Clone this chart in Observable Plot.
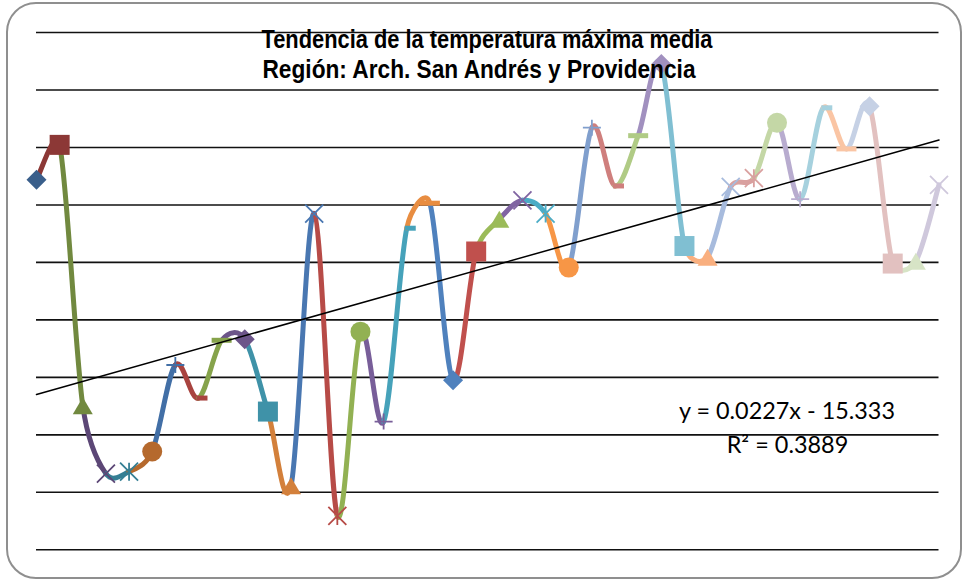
<!DOCTYPE html>
<html>
<head>
<meta charset="utf-8">
<script src="https://cdn.jsdelivr.net/npm/d3@7"></script>
<script src="https://cdn.jsdelivr.net/npm/@observablehq/plot@0.6"></script>
<style>
  body { margin: 0; background: #fff; }
  #wrap { position: relative; width: 963px; height: 581px; overflow: hidden; background: #fff; }
  #frame { position: absolute; left: 6px; top: 2px; width: 956px; height: 577px; box-sizing: border-box;
           border: 2px solid #8f8f8f; border-radius: 30px; pointer-events: none; }
  #chart { position: absolute; left: 0; top: 0; }
</style>
</head>
<body>
<div id="wrap"><div id="chart"></div><div id="frame"></div></div>
<script>
// ---------------- data ----------------
const titleLines = ["Tendencia de la temperatura máxima media", "Región: Arch. San Andrés y Providencia"];
const equationLines = ["y = 0.0227x - 15.333", "R² = 0.3889"];
const trendSlope = 0.0227;
const trendIntercept = -15.333;

const years = [1968, 1969, 1970, 1971, 1972, 1973, 1974, 1975, 1976, 1977,
               1978, 1979, 1980, 1981, 1982, 1983, 1984, 1985, 1986, 1987,
               1988, 1989, 1990, 1991, 1992, 1993, 1994, 1995, 1996, 1997,
               1998, 1999, 2000, 2001, 2002, 2003, 2004, 2005, 2006, 2007];

const tmax = [30.088, 30.209, 29.301, 29.065, 29.072, 29.142, 29.443, 29.328, 29.529, 29.533,
              29.281, 29.023, 29.970, 28.918, 29.559, 29.246, 29.919, 30.006, 29.390, 29.838,
              29.950, 30.016, 29.970, 29.782, 30.269, 30.066, 30.241, 30.490, 29.857, 29.818,
              30.063, 30.093, 30.286, 30.020, 30.338, 30.195, 30.343, 29.796, 29.804, 30.070];

const gridValues = [28.8, 29.0, 29.2, 29.4, 29.6, 29.8, 30.0, 30.2, 30.4, 30.6];

const pointColors = [
  "#3a5f8b", "#8c3836", "#71893f", "#5c4776", "#357f94", "#b5692d",
  "#426fa6", "#a8433f", "#86a34b", "#6c5589", "#3f92a8", "#d3803b",
  "#4977b1", "#b74b47", "#92b153", "#785e99", "#46a2ba", "#e88d41",
  "#4f81bd", "#c0504d", "#9bbb59", "#8064a2", "#4bacc6", "#f79646",
  "#809fcd", "#cf7f7d", "#b0cb85", "#a190bf", "#80bfd2", "#f9af7f",
  "#a7bbdd", "#d9a09f", "#c4d7a6", "#b8accf", "#a6d1de", "#fac5a4",
  "#c6d1e5", "#e2c1c0", "#d7e4c6", "#cfc8dc"
];

const markerCycle = ["diamond", "square", "triangle", "x", "asterisk", "circle", "plus", "dash", "longdash"];

// ---------------- build tables ----------------
const points = years.map((yr, i) => ({year: yr, t: tmax[i], color: pointColors[i], marker: markerCycle[i % markerCycle.length]}));

// each segment i (from point i-1 to point i) carries its 4 neighbouring points, coloured like point i
const segRows = [];
for (let i = 1; i < points.length; i++) {
  const idx = [Math.max(i - 2, 0), i - 1, i, Math.min(i + 1, points.length - 1)];
  for (const j of idx) segRows.push({seg: i, year: years[j], t: tmax[j], color: pointColors[i]});
}

// custom curve: draws only the middle segment of 4 points, Excel-style smoothing
// (tangent parallel to the neighbours' chord, arm = min(chord/6, segment/2))
function middleSegment(context) {
  let pts = [];
  const dist = (a, b) => Math.hypot(b[0] - a[0], b[1] - a[1]);
  return {
    areaStart() {}, areaEnd() {},
    lineStart() { pts = []; },
    lineEnd() {
      if (pts.length === 4) {
        const [p0, p1, p2, p3] = pts;
        const d12 = dist(p1, p2), d02 = dist(p0, p2), d13 = dist(p1, p3);
        const f1 = d02 > 0 ? Math.min(d02 / 6, d12 / 2) / d02 : 0;
        const f2 = d13 > 0 ? Math.min(d13 / 6, d12 / 2) / d13 : 0;
        context.moveTo(p1[0], p1[1]);
        context.bezierCurveTo(
          p1[0] + (p2[0] - p0[0]) * f1, p1[1] + (p2[1] - p0[1]) * f1,
          p2[0] - (p3[0] - p1[0]) * f2, p2[1] - (p3[1] - p1[1]) * f2,
          p2[0], p2[1]);
      }
    },
    point(x, y) { pts.push([+x, +y]); }
  };
}

const symbols = {
  diamond:  {draw(c) { c.moveTo(0, -10); c.lineTo(10, 0); c.lineTo(0, 10); c.lineTo(-10, 0); c.closePath(); }},
  square:   {draw(c) { c.rect(-10, -10, 20, 20); }},
  triangle: {draw(c) { c.moveTo(0, -8.5); c.lineTo(10, 8.5); c.lineTo(-10, 8.5); c.closePath(); }},
  x:        {draw(c) { c.moveTo(-9, -9); c.lineTo(9, 9); c.moveTo(9, -9); c.lineTo(-9, 9); }},
  asterisk: {draw(c) { c.moveTo(-9, -9); c.lineTo(9, 9); c.moveTo(9, -9); c.lineTo(-9, 9); c.moveTo(0, -9); c.lineTo(0, 9); }},
  circle:   {draw(c) { c.moveTo(10, 0); c.arc(0, 0, 10, 0, 2 * Math.PI); }},
  plus:     {draw(c) { c.moveTo(-9, 0); c.lineTo(9, 0); c.moveTo(0, -8); c.lineTo(0, 8); }},
  dash:     {draw(c) { c.rect(-2, -2.5, 11, 5); }},
  longdash: {draw(c) { c.rect(-10, -2.5, 20, 5); }}
};
const stroked = new Set(["x", "asterisk", "plus"]);

const markerMarks = markerCycle.map(m => Plot.dot(points.filter(d => d.marker === m), stroked.has(m)
  ? {x: "year", y: "t", symbol: symbols[m], stroke: "color", fill: "none", strokeWidth: 1.8}
  : {x: "year", y: "t", symbol: symbols[m], fill: "color", stroke: "none"}));

const trendRows = [years[0], years[years.length - 1]].map(yr => ({year: yr, t: trendSlope * yr + trendIntercept}));

const chart = Plot.plot({
  width: 963,
  height: 581,
  marginLeft: 36,
  marginRight: 24.5,
  marginTop: 32,
  marginBottom: 31.7,
  x: {domain: [years[0], years[years.length - 1]], axis: null},
  y: {domain: [gridValues[0], gridValues[gridValues.length - 1]], axis: null},
  color: {type: "identity"},
  style: {background: "transparent", overflow: "visible"},
  marks: [
    Plot.ruleY(gridValues, {stroke: "#111", strokeWidth: 1.6}),
    Plot.line(segRows, {x: "year", y: "t", z: "seg", stroke: "color", strokeWidth: 5,
                        curve: middleSegment, strokeLinecap: "round"}),
    ...markerMarks,
    Plot.line(trendRows, {x: "year", y: "t", stroke: "#000", strokeWidth: 1.5})
  ]
});
document.getElementById("chart").appendChild(chart);

// ---------------- texts ----------------
const svg = d3.select(chart);
const texts = [
  {s: titleLines[0], x: 487, y: 47.5, w: 451, font: "bold 25px 'Liberation Sans', Arial, sans-serif"},
  {s: titleLines[1], x: 479, y: 77.5, w: 433, font: "bold 25px 'Liberation Sans', Arial, sans-serif"},
  {s: equationLines[0], x: 787, y: 419, w: 216, font: "23px Lato, 'Open Sans', sans-serif"},
  {s: equationLines[1], x: 787.5, y: 452.5, w: 121.6, font: "23px Lato, 'Open Sans', sans-serif"}
];
for (const t of texts) {
  svg.append("text")
    .attr("x", t.x).attr("y", t.y)
    .attr("text-anchor", "middle")
    .attr("fill", "#000")
    .attr("textLength", t.w)
    .attr("lengthAdjust", "spacingAndGlyphs")
    .style("font", t.font)
    .text(t.s);
}
</script>
</body>
</html>
